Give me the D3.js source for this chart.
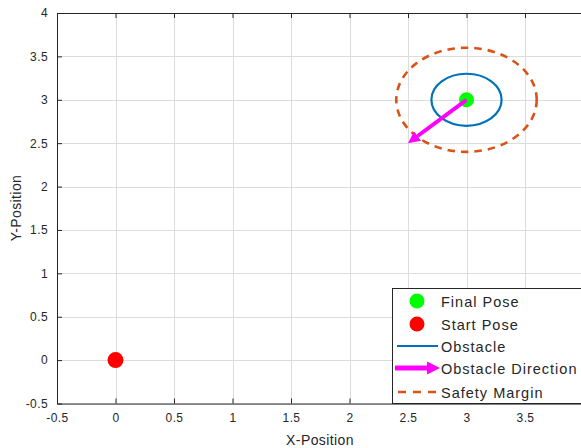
<!DOCTYPE html>
<html>
<head>
<meta charset="utf-8">
<script src="https://cdn.jsdelivr.net/npm/d3@7"></script>
<style>
  body { margin: 0; background: #fff; }
  text { font-family: "Liberation Sans", Arial, sans-serif; fill: #262626; }
</style>
</head>
<body>
<script>
// data
var xTicks = [-0.5, 0, 0.5, 1, 1.5, 2, 2.5, 3, 3.5, 4];
var yTicks = [-0.5, 0, 0.5, 1, 1.5, 2, 2.5, 3, 3.5, 4];
var finalPose = [3, 3];
var startPose = [0, 0];
var obstacleCenter = [3, 3];
var obstacleRadius = 0.3;
var safetyRadius = 0.6;
var obstacleDir = [2.5, 2.5];
var legendLabels = ['Final Pose', 'Start Pose', 'Obstacle', 'Obstacle Direction', 'Safety Margin'];

var W = 581, H = 448;

var x = d3.scaleLinear().domain([-0.5, 4]).range([57, 583.5]);
var y = d3.scaleLinear().domain([-0.5, 4]).range([403.5, 13]);

var svg = d3.select('body').append('svg')
  .attr('width', W)
  .attr('height', H);

var defs = svg.append('defs');
defs.append('clipPath').attr('id', 'clip')
  .append('rect')
  .attr('x', x(-0.5)).attr('y', y(4))
  .attr('width', x(4) - x(-0.5)).attr('height', y(-0.5) - y(4));
defs.append('marker')
  .attr('id', 'arrow')
  .attr('viewBox', '0 0 10 10')
  .attr('refX', 0).attr('refY', 5)
  .attr('markerWidth', 3).attr('markerHeight', 3.2)
  .attr('markerUnits', 'strokeWidth')
  .attr('orient', 'auto')
  .append('path')
  .attr('d', 'M0,0 L10,5 L0,10 Z')
  .attr('fill', '#ff00ff');

// grid
var grid = svg.append('g');
grid.selectAll('.gx').data(xTicks).enter().append('line')
  .attr('x1', function(d) { return Math.round(x(d)) + 0.5; })
  .attr('x2', function(d) { return Math.round(x(d)) + 0.5; })
  .attr('y1', y(4)).attr('y2', y(-0.5))
  .attr('stroke', '#dcdcdc').attr('stroke-width', 1);
grid.selectAll('.gy').data(yTicks).enter().append('line')
  .attr('y1', function(d) { return Math.round(y(d)) + 0.5; })
  .attr('y2', function(d) { return Math.round(y(d)) + 0.5; })
  .attr('x1', x(-0.5)).attr('x2', x(4))
  .attr('stroke', '#dcdcdc').attr('stroke-width', 1);

// axes
var fmt = function(d) { return String(d); };
var xAxis = d3.axisBottom(x).tickValues(xTicks.slice(0, -1)).tickSizeInner(-5).tickSizeOuter(0).tickPadding(10).tickFormat(fmt);
var xAxisTop = d3.axisTop(x).tickValues(xTicks.slice(0, -1)).tickSizeInner(-5).tickSizeOuter(0).tickFormat('');
var yAxis = d3.axisLeft(y).tickValues(yTicks).tickSizeInner(-5).tickSizeOuter(0).tickPadding(9).tickFormat(fmt);

function styleAxis(g) {
  g.select('.domain').attr('stroke', '#262626');
  g.selectAll('.tick line').attr('stroke', '#262626');
  g.selectAll('.tick text').attr('fill', '#262626')
    .style('font-family', '"Liberation Sans", Arial, sans-serif')
    .style('font-size', '12px')
    .style('letter-spacing', '0.4px');
}
svg.append('g').attr('transform', 'translate(0,' + y(-0.5) + ')').call(xAxis).call(styleAxis);
svg.append('g').attr('transform', 'translate(0,' + y(4) + ')').call(xAxisTop).call(styleAxis);
svg.append('g').attr('transform', 'translate(' + x(-0.5) + ',0)').call(yAxis).call(styleAxis);

// plot content
var plot = svg.append('g').attr('clip-path', 'url(#clip)');

plot.append('ellipse')
  .attr('cx', x(obstacleCenter[0])).attr('cy', y(obstacleCenter[1]))
  .attr('rx', x(obstacleRadius) - x(0)).attr('ry', y(0) - y(obstacleRadius))
  .attr('fill', 'none').attr('stroke', '#0072bd').attr('stroke-width', 2.2);

plot.append('ellipse')
  .attr('cx', x(obstacleCenter[0])).attr('cy', y(obstacleCenter[1]))
  .attr('rx', x(safetyRadius) - x(0)).attr('ry', y(0) - y(safetyRadius))
  .attr('fill', 'none').attr('stroke', '#d95319').attr('stroke-width', 2.6)
  .attr('stroke-dasharray', '7.5,6');

plot.append('circle')
  .attr('cx', x(finalPose[0])).attr('cy', y(finalPose[1])).attr('r', 7.5)
  .attr('fill', '#00ff00');

// arrow: shaft stops short of the tip so the head lands on obstacleDir
var ax0 = x(obstacleCenter[0]), ay0 = y(obstacleCenter[1]);
var ax1 = x(obstacleDir[0]), ay1 = y(obstacleDir[1]);
var len = Math.hypot(ax1 - ax0, ay1 - ay0), headLen = 12;
plot.append('line')
  .attr('x1', ax0).attr('y1', ay0)
  .attr('x2', ax1 - (ax1 - ax0) / len * headLen)
  .attr('y2', ay1 - (ay1 - ay0) / len * headLen)
  .attr('stroke', '#ff00ff').attr('stroke-width', 4)
  .attr('marker-end', 'url(#arrow)');

plot.append('circle')
  .attr('cx', x(startPose[0])).attr('cy', y(startPose[1])).attr('r', 8)
  .attr('fill', '#ff0000');

// axis labels
svg.append('text')
  .attr('x', 320).attr('y', 445)
  .attr('text-anchor', 'middle')
  .style('font-size', '14px')
  .style('letter-spacing', '0.4px')
  .text('X-Position');
svg.append('text')
  .attr('transform', 'translate(21,208) rotate(-90)')
  .attr('text-anchor', 'middle')
  .style('font-size', '14px')
  .style('letter-spacing', '0.4px')
  .text('Y-Position');

// legend
var lg = svg.append('g').attr('transform', 'translate(392,288)');
lg.append('rect')
  .attr('x', 0.5).attr('y', 0.5)
  .attr('width', 200).attr('height', 115)
  .attr('fill', '#fff').attr('stroke', '#262626').attr('stroke-width', 1);

var rowY = [13, 36, 58, 80, 104];
var item = lg.selectAll('.item').data(legendLabels).enter().append('g')
  .attr('transform', function(d, i) { return 'translate(0,' + rowY[i] + ')'; });
item.append('text')
  .attr('x', 49)
  .attr('y', 5.5)
  .style('font-size', '14.5px')
  .style('letter-spacing', '1px')
  .text(function(d) { return d; });

lg.append('circle').attr('cx', 25).attr('cy', rowY[0]).attr('r', 7.5).attr('fill', '#00ff00');
lg.append('circle').attr('cx', 25).attr('cy', rowY[1]).attr('r', 7.5).attr('fill', '#ff0000');
lg.append('line').attr('x1', 5).attr('x2', 46).attr('y1', rowY[2]).attr('y2', rowY[2])
  .attr('stroke', '#0072bd').attr('stroke-width', 2.2);
lg.append('line').attr('x1', 3).attr('x2', 37).attr('y1', rowY[3]).attr('y2', rowY[3])
  .attr('stroke', '#ff00ff').attr('stroke-width', 5);
lg.append('path').attr('d', 'M35,' + (rowY[3] - 6.5) + ' L48,' + rowY[3] + ' L35,' + (rowY[3] + 6.5) + ' Z')
  .attr('fill', '#ff00ff');
lg.append('line').attr('x1', 6).attr('x2', 46).attr('y1', rowY[4]).attr('y2', rowY[4])
  .attr('stroke', '#d95319').attr('stroke-width', 2.4).attr('stroke-dasharray', '8,7');
</script>
</body>
</html>
